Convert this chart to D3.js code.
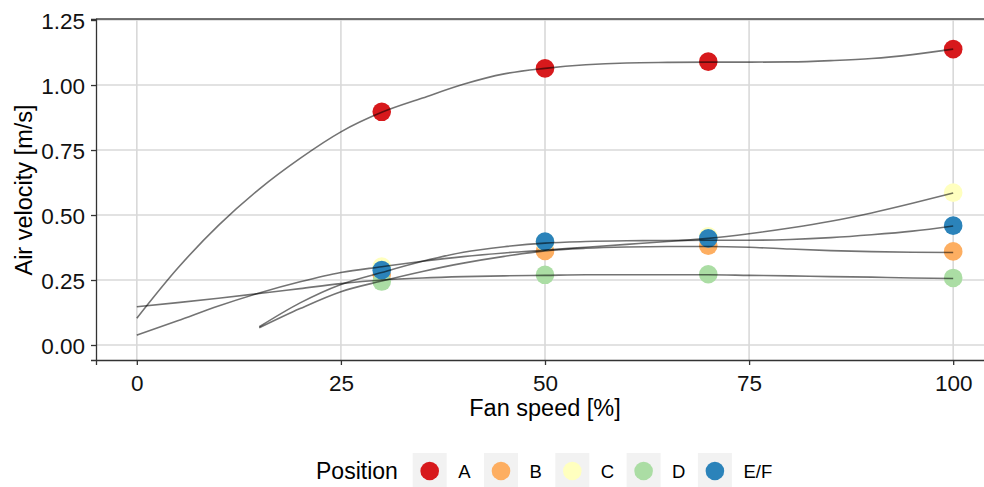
<!DOCTYPE html>
<html>
<head>
<meta charset="utf-8">
<script src="https://cdn.jsdelivr.net/npm/d3@7"></script>
<style>
  body { margin: 0; background: #fff; }
  text { font-family: "Liberation Sans", Arial, sans-serif; fill: #000; }
</style>
</head>
<body>
<svg id="chart" width="984" height="487"></svg>
<script>
var positions = ["A", "B", "C", "D", "E/F"];
var colors = ["#D7191C", "#FDAE61", "#FFFFBF", "#ABDDA4", "#2B83BA"];

// measured points
var fanSpeeds = [30, 50, 70, 100];
var velA = [0.897, 1.064, 1.090, 1.138];
var velB = [0.270, 0.362, 0.382, 0.360];
var velC = [0.302, 0.396, 0.418, 0.586];
var velD = [0.244, 0.270, 0.272, 0.258];
var velEF = [0.288, 0.398, 0.410, 0.459];

// fitted curves
var fitX = [0, 5, 10, 15, 20, 25, 30, 35, 40, 45, 50, 55, 60, 65, 70, 75, 80, 85, 90, 95, 100];
var fitA = [0.103, 0.295, 0.460, 0.600, 0.718, 0.820, 0.895, 0.950, 1.003, 1.043, 1.064, 1.078, 1.085, 1.087, 1.088, 1.088, 1.089, 1.094, 1.102, 1.117, 1.138];
var fitB = [null, null, null, 0.066, 0.140, 0.205, 0.246, 0.283, 0.315, 0.341, 0.362, 0.372, 0.377, 0.379, 0.379, 0.376, 0.369, 0.363, 0.359, 0.357, 0.356];
var fitC = [0.038, 0.093, 0.150, 0.200, 0.243, 0.279, 0.301, 0.322, 0.340, 0.354, 0.365, 0.376, 0.387, 0.398, 0.410, 0.428, 0.450, 0.476, 0.508, 0.545, 0.585];
var fitD = [0.147, 0.163, 0.180, 0.198, 0.217, 0.236, 0.250, 0.258, 0.263, 0.266, 0.268, 0.270, 0.270, 0.270, 0.270, 0.268, 0.266, 0.263, 0.261, 0.258, 0.256];
var fitEF = [null, null, null, 0.070, 0.162, 0.233, 0.279, 0.322, 0.357, 0.378, 0.392, 0.398, 0.401, 0.402, 0.403, 0.403, 0.406, 0.413, 0.424, 0.438, 0.458];

var xTicks = [0, 25, 50, 75, 100];
var yTicks = [0, 0.25, 0.5, 0.75, 1.0, 1.25];

var vels = [velA, velB, velC, velD, velEF];
var fits = [fitA, fitB, fitC, fitD, fitEF];

var svg = d3.select("#chart");
var pLeft = 96, pRight = 994, pTop = 19, pBottom = 360;

var x = d3.scaleLinear().domain([-5, 105]).range([pLeft, pRight]);
var y = d3.scaleLinear().domain([-0.0577, 1.254]).range([pBottom, pTop]);

// grid
svg.append("g").selectAll("line").data(xTicks).enter().append("line")
    .attr("x1", function(d) { return x(d); }).attr("x2", function(d) { return x(d); })
    .attr("y1", pTop).attr("y2", pBottom)
    .style("stroke", "#d9d9d9").style("stroke-width", 1.6);
svg.append("g").selectAll("line").data(yTicks).enter().append("line")
    .attr("x1", pLeft).attr("x2", pRight)
    .attr("y1", function(d) { return y(d); }).attr("y2", function(d) { return y(d); })
    .style("stroke", "#d9d9d9").style("stroke-width", 1.6);

// top border
svg.append("line").attr("x1", pLeft).attr("x2", pRight).attr("y1", pTop).attr("y2", pTop)
    .style("stroke", "#444").style("stroke-width", 1.3);

// axes
var xAxis = svg.append("g").attr("transform", "translate(0," + pBottom + ")")
    .call(d3.axisBottom(x).tickValues(xTicks).tickSize(5).tickPadding(5).tickFormat(d3.format("d")));
var yAxis = svg.append("g").attr("transform", "translate(" + pLeft + ",0)")
    .call(d3.axisLeft(y).tickValues(yTicks).tickSize(5).tickPadding(6).tickFormat(d3.format(".2f")));
[xAxis, yAxis].forEach(function(a) {
    a.select(".domain").style("stroke", "#333").style("stroke-width", 1.3);
    a.selectAll(".tick line").style("stroke", "#333").style("stroke-width", 1.3);
    a.selectAll(".tick text").style("font-size", "22.5px").style("fill", "#111")
        .style("font-family", '"Liberation Sans", Arial, sans-serif');
});
xAxis.selectAll(".tick text").attr("dy", "0.93em");
yAxis.selectAll(".tick text").attr("dy", "0.36em");

// titles
svg.append("text").attr("x", x(50)).attr("y", 416).attr("text-anchor", "middle")
    .style("font-size", "23.5px").text("Fan speed [%]");
svg.append("text").attr("transform", "translate(32," + 190 + ") rotate(-90)")
    .attr("text-anchor", "middle").style("font-size", "23.5px").text("Air velocity [m/s]");

// points
positions.forEach(function(p, i) {
    svg.append("g").selectAll("circle").data(fanSpeeds).enter().append("circle")
        .attr("cx", function(d) { return x(d); })
        .attr("cy", function(d, j) { return y(vels[i][j]); })
        .attr("r", 9.3)
        .style("fill", colors[i]);
});

// fitted lines
var line = d3.line()
    .defined(function(d) { return d[1] !== null; })
    .x(function(d) { return x(d[0]); })
    .y(function(d) { return y(d[1]); })
    .curve(d3.curveMonotoneX);
fits.forEach(function(f) {
    svg.append("path")
        .attr("d", line(fitX.map(function(v, k) { return [v, f[k]]; })))
        .style("fill", "none").style("stroke", "#000").style("stroke-opacity", 0.55)
        .style("stroke-width", 1.6);
});

// legend
svg.append("text").attr("x", 316).attr("y", 479).style("font-size", "23px").text("Position");
var legend = svg.append("g").selectAll("g").data(positions).enter().append("g")
    .attr("transform", function(d, i) { return "translate(" + (412.7 + i * 71.3) + ",453)"; });
legend.append("rect").attr("width", 34).attr("height", 34).style("fill", "#f2f2f2");
legend.append("circle").attr("cx", 17).attr("cy", 18).attr("r", 9.3)
    .style("fill", function(d, i) { return colors[i]; });
legend.append("text").attr("x", 45.5).attr("y", 25).style("font-size", "18.5px")
    .text(function(d) { return d; });
</script>
</body>
</html>
